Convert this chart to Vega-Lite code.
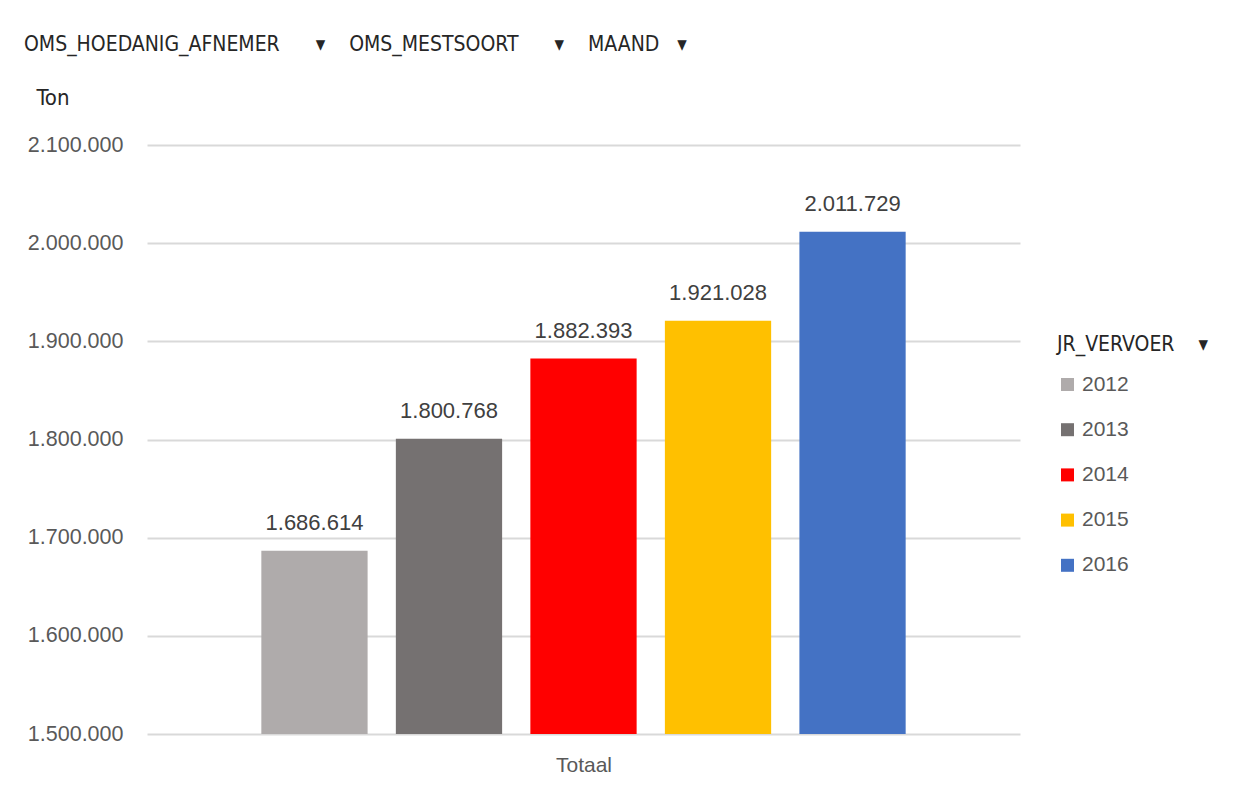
{
  "$schema": "https://vega.github.io/schema/vega-lite/v6.json",
  "autosize": "none",
  "width": 873,
  "height": 589,
  "padding": {"left": 147, "top": 145, "right": 223, "bottom": 56},
  "background": "white",
  "title": {
    "text": "OMS_HOEDANIG_AFNEMER\u00a0\u00a0\u00a0\u00a0\u00a0\u00a0\u25be\u00a0\u00a0\u00a0\u00a0OMS_MESTSOORT\u00a0\u00a0\u00a0\u00a0\u00a0\u00a0\u25be\u00a0\u00a0\u00a0\u00a0MAAND\u00a0\u00a0\u00a0\u25be",
    "anchor": "start",
    "frame": "group",
    "dx": -123,
    "offset": 10,
    "baseline": "bottom",
    "font": "'DejaVu Sans Condensed', 'Roboto Condensed', Roboto, sans-serif",
    "fontSize": 21,
    "fontWeight": "normal",
    "color": "#262626"
  },
  "data": {
    "values": [
      {"jaar": "2012", "ton": 1686614},
      {"jaar": "2013", "ton": 1800768},
      {"jaar": "2014", "ton": 1882393},
      {"jaar": "2015", "ton": 1921028},
      {"jaar": "2016", "ton": 2011729}
    ]
  },
  "encoding": {
    "x": {
      "field": "jaar",
      "type": "nominal",
      "scale": {"paddingInner": 0.21, "paddingOuter": 0.85},
      "axis": {
        "title": "Totaal",
        "labels": false,
        "ticks": false,
        "domain": false,
        "titleFont": "Liberation Sans",
        "titleFontSize": 21,
        "titleFontWeight": "normal",
        "titleColor": "#595959",
        "titlePadding": 20
      }
    },
    "y": {
      "field": "ton",
      "type": "quantitative",
      "scale": {"domain": [1500000, 2100000], "zero": false, "nice": false},
      "axis": {
        "title": "Ton",
        "titleAngle": 0,
        "titleX": -111,
        "titleY": -48,
        "titleAlign": "left",
        "titleBaseline": "middle",
        "titleFont": "'DejaVu Sans Condensed', 'Roboto Condensed', Roboto, sans-serif",
        "titleFontSize": 22,
        "titleFontWeight": "normal",
        "titleColor": "#262626",
        "values": [1500000, 1600000, 1700000, 1800000, 1900000, 2000000, 2100000],
        "format": ",.0f",
        "labelFont": "Liberation Sans",
        "labelFontSize": 21.5,
        "labelColor": "#595959",
        "labelPadding": 24,
        "ticks": false,
        "domain": false,
        "grid": true,
        "gridColor": "#d9d9d9",
        "gridWidth": 2
      }
    }
  },
  "layer": [
    {
      "mark": {"type": "bar", "clip": true},
      "encoding": {
        "color": {
          "field": "jaar",
          "type": "nominal",
          "scale": {
            "domain": ["2012", "2013", "2014", "2015", "2016"],
            "range": ["#AFABAB", "#757171", "#FF0000", "#FFC000", "#4472C4"]
          },
          "legend": {
            "title": "JR_VERVOER\u00a0\u00a0\u00a0\u00a0\u25be",
            "orient": "none",
            "legendX": 910,
            "legendY": 189,
            "titleFont": "'DejaVu Sans Condensed', 'Roboto Condensed', Roboto, sans-serif",
            "titleFontSize": 21,
            "titleFontWeight": "normal",
            "titleColor": "#262626",
            "titlePadding": 19,
            "symbolType": "square",
            "symbolSize": 169,
            "symbolStrokeWidth": 0,
            "labelFont": "Liberation Sans",
            "labelFontSize": 21,
            "labelColor": "#595959",
            "labelOffset": 4,
            "rowPadding": 23.2
          }
        }
      }
    },
    {
      "mark": {
        "type": "text",
        "dy": -28,
        "font": "Liberation Sans",
        "fontSize": 22,
        "color": "#404040"
      },
      "encoding": {
        "text": {"field": "ton", "type": "quantitative", "format": ",.0f"}
      }
    }
  ],
  "config": {
    "locale": {
      "number": {"decimal": ",", "thousands": ".", "grouping": [3], "currency": ["€", ""]}
    },
    "view": {"stroke": null}
  }
}
